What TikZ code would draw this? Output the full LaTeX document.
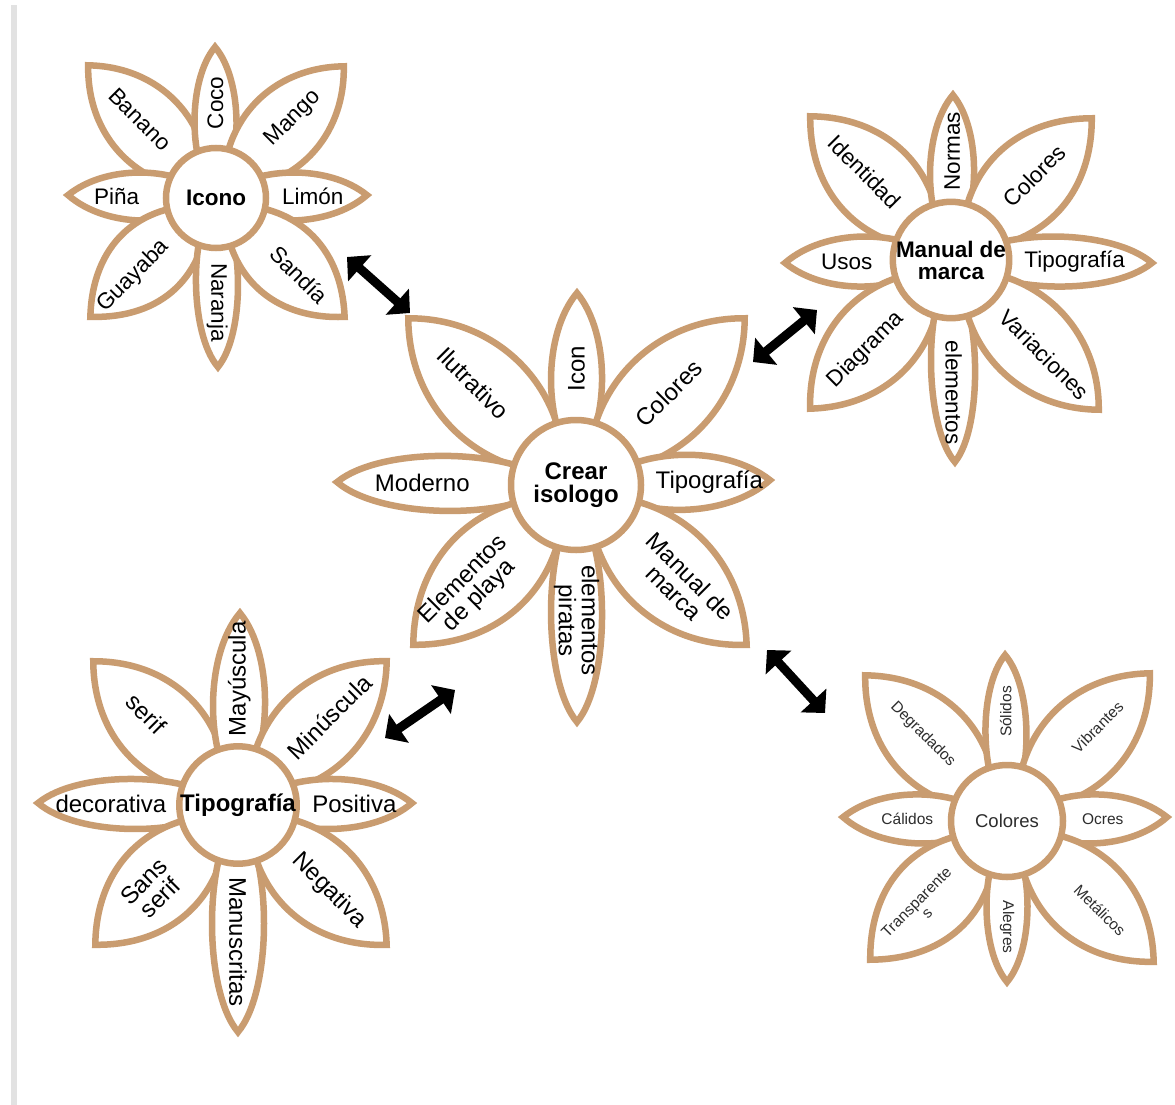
\documentclass[tikz,border=0pt]{standalone}
\usepackage{fontspec}
\setmainfont{Liberation Sans}
\usetikzlibrary{arrows.meta}
\pgfdeclarelayer{bg}
\pgfsetlayers{bg,main}
\definecolor{petaltan}{RGB}{201,156,112}
\definecolor{bargray}{RGB}{226,226,226}
\definecolor{softtext}{RGB}{45,45,45}
\tikzset{
 petal/.style={draw=petaltan,line width=6.5pt,fill=white,line join=miter},
 hub/.style={circle,draw=petaltan,line width=6.5pt,fill=white,inner sep=0pt,align=center},
 ptext/.style={inner sep=0pt,align=center,font=\pfont,text=\pcol},
 link/.style={line width=9pt,{Triangle[length=17pt,width=34pt]}-{Triangle[length=17pt,width=34pt]}},
}
\newcommand\petal[7]{%
 \edef\PTw{\csname w#3\endcsname}%
 \edef\PTa{\csname a#3\endcsname}%
 \edef\PTz{\csname z#3\endcsname}%
 \pgfmathsetmacro\PTang{atan2((#2)-(\cy),(#1)-(\cx))}%
 \pgfmathsetmacro\PTD{veclen((#1)-(\cx),(#2)-(\cy))}%
 \pgfmathsetmacro\PTL{\PTD-3.25/sin(\PTa)}%
 \pgfmathsetmacro\PTh{\PTw/0.75}%
 \pgfmathsetmacro\PTk{\PTh/tan(\PTa)}%
 \pgfmathsetmacro\PTtx{\cx+(#4)*\PTD*cos(\PTang)}%
 \pgfmathsetmacro\PTty{\cy+(#4)*\PTD*sin(\PTang)}%
 \begin{pgfonlayer}{bg}
 \draw[petal,shift={(\cx,\cy)},rotate=\PTang] (\PTz,0) .. controls ({\PTz+\PTk},\PTh) and ({\PTL-\PTk},\PTh) .. (\PTL,0) .. controls ({\PTL-\PTk},-\PTh) and ({\PTz+\PTk},-\PTh) .. cycle;
 \end{pgfonlayer}
 \node[ptext,rotate=#5] (#6) at (\PTtx,\PTty) {#7};
}
\begin{document}
\begin{tikzpicture}[x=1pt,y=1pt]
\begin{pgfonlayer}{bg}
\fill[white] (0,0) rectangle (1175,-1105);
\fill[bargray] (11,-5) rectangle (17,-1105);
\end{pgfonlayer}
\useasboundingbox (0,0) rectangle (1175,-1105);

% ---------- Flower 1: Icono
\def\cx{216}\def\cy{-198}
\def\wV{21}\def\aV{40}\def\zV{0}
\def\wH{24}\def\aH{40}\def\zH{0}
\def\wD{38}\def\aD{45}\def\zD{10}
\def\pfont{\fontsize{22.5}{21}\selectfont}\def\pcol{black}
\node[hub,minimum size=100pt,font=\bfseries\pfont] (icono) at (\cx,\cy) {Icono};
\petal{85}{-62}{D}{0.58}{-45}{banano}{Banano}
\petal{215}{-42}{V}{0.61}{90}{coco}{Coco}
\petal{347}{-63}{D}{0.59}{45}{mango}{Mango}
\petal{63}{-195}{H}{0.65}{0}{pina}{Piña}
\petal{372}{-195}{H}{0.62}{0}{limon}{Limón}
\petal{87}{-320}{D}{0.64}{45}{guayaba}{Guayaba}
\petal{218}{-372}{V}{0.6}{-90}{naranja}{Naranja}
\petal{348}{-320}{D}{0.63}{-45}{sandia}{Sandía}

% ---------- Flower 2: Manual de marca
\def\cx{951}\def\cy{-260}
\def\wV{22}\def\aV{40}\def\zV{10}
\def\wH{25}\def\aH{40}\def\zH{10}
\def\wD{42}\def\aD{45}\def\zD{14}
\def\pfont{\fontsize{22.5}{22}\selectfont}\def\pcol{black}
\node[hub,minimum size=110pt,font=\bfseries\pfont] (manual) at (\cx,\cy) {Manual de\\marca};
\petal{807}{-113}{D}{0.6}{-45}{identidad}{Identidad}
\petal{953}{-90}{V}{0.64}{90}{normas}{Normas}
\petal{1095}{-115}{D}{0.58}{45}{colores2}{Colores}
\petal{780}{-263}{H}{0.61}{0}{usos}{Usos}
\petal{1157}{-263}{H}{0.6}{0}{tipo2}{Tipografía}
\petal{807}{-412}{D}{0.59}{45}{diagrama}{Diagrama}
\petal{955}{-467}{V}{0.64}{-90}{elementos2}{elementos}
\petal{1102}{-413}{D}{0.62}{-45}{variaciones}{Variaciones}

% ---------- Flower 3: Crear isologo
\def\cx{576}\def\cy{-485}
\def\wV{25.5}\def\aV{40}\def\zV{20}
\def\wH{27.5}\def\aH{40}\def\zH{20}
\def\wD{47}\def\aD{45}\def\zD{16}
\def\pfont{\fontsize{24}{23}\selectfont}\def\pcol{black}
\node[hub,minimum size=130pt,font=\bfseries\pfont] (crear) at (\cx,\cy) {Crear\\isologo};
\petal{405}{-315}{D}{0.6}{-45}{ilustrativo}{Ilutrativo}
\petal{577}{-288}{V}{0.59}{90}{icon}{Icon}
\petal{748}{-315}{D}{0.54}{45}{colores3}{Colores}
\petal{332}{-482}{H}{0.63}{0}{moderno}{Moderno}
\petal{775}{-480}{H}{0.67}{0}{tipo3}{Tipografía}
\petal{410}{-648}{D}{0.63}{45}{playa}{Elementos\\de playa}
\petal{577}{-727}{V}{0.56}{-90}{piratas}{elementos\\piratas}
\petal{750}{-648}{D}{0.61}{-45}{manual3}{Manual de\\marca}

% ---------- Flower 4: Tipografia
\def\cx{238}\def\cy{-805}
\def\wV{26}\def\aV{40}\def\zV{10}
\def\wH{25}\def\aH{40}\def\zH{10}
\def\wD{42}\def\aD{45}\def\zD{14}
\def\pfont{\fontsize{24}{23}\selectfont}\def\pcol{black}
\node[hub,minimum size=112pt,font=\bfseries\pfont] (tipografia) at (\cx,\cy) {Tipografía};
\petal{90}{-658}{D}{0.62}{-45}{serif}{serif}
\petal{240}{-608}{V}{0.64}{90}{mayuscula}{Mayúscula}
\petal{390}{-658}{D}{0.6}{45}{minuscula}{Minúscula}
\petal{33}{-803}{H}{0.62}{0}{decorativa}{decorativa}
\petal{417}{-803}{H}{0.65}{0}{positiva}{Positiva}
\petal{92}{-948}{D}{0.59}{45}{sansserif}{Sans\\serif}
\petal{238}{-1037}{V}{0.59}{-90}{manuscritas}{Manuscritas}
\petal{390}{-948}{D}{0.6}{-45}{negativa}{Negativa}

% ---------- Flower 5: Colores
\def\cx{1007}\def\cy{-821}
\def\wV{20.5}\def\aV{40}\def\zV{10}
\def\wH{24.5}\def\aH{40}\def\zH{10}
\def\wD{42}\def\aD{45}\def\zD{14}
\def\pfont{\fontsize{15.5}{15}\selectfont}\def\pcol{softtext}
\node[hub,minimum size=112pt,font=\fontsize{18.5}{18}\selectfont,text=softtext] (colores) at (\cx,\cy) {Colores};
\petal{862}{-672}{D}{0.58}{-45}{degradados}{Degradados}
\petal{1005}{-650}{V}{0.64}{90}{solidos}{Sólidos}
\petal{1153}{-670}{D}{0.62}{45}{vibrantes}{Vibrantes}
\petal{838}{-817}{H}{0.59}{0}{calidos}{Cálidos}
\petal{1172}{-817}{H}{0.58}{0}{ocres}{Ocres}
\petal{867}{-963}{D}{0.61}{45}{transparentes}{Transparente\\s}
\petal{1007}{-987}{V}{0.64}{-90}{alegres}{Alegres}
\petal{1157}{-965}{D}{0.62}{-45}{metalicos}{Metálicos}

% ---------- Connectors
\coordinate (a1) at (347,-257); \coordinate (b1) at (410,-313);
\coordinate (a2) at (817,-310); \coordinate (b2) at (753,-362);
\coordinate (a3) at (455,-690); \coordinate (b3) at (385,-738);
\coordinate (a4) at (767,-650); \coordinate (b4) at (825,-713);
\draw[link] (a1) -- (b1);
\draw[link] (a2) -- (b2);
\draw[link] (a3) -- (b3);
\draw[link] (a4) -- (b4);
\end{tikzpicture}
\end{document}
